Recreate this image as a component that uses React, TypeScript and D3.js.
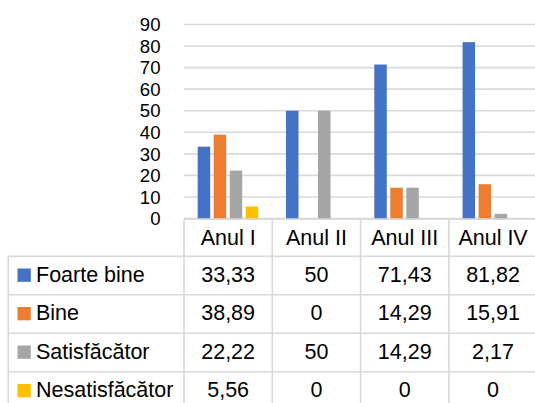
import * as d3 from 'd3'
import { useEffect, useRef } from 'react'

const categories = ['Anul I', 'Anul II', 'Anul III', 'Anul IV']
const seriesNames = ['Foarte bine', 'Bine', 'Satisfăcător', 'Nesatisfăcător']
const foarteBine = [33.33, 50, 71.43, 81.82]
const bine = [38.89, 0, 14.29, 15.91]
const satisfacator = [22.22, 50, 14.29, 2.17]
const nesatisfacator = [5.56, 0, 0, 0]
const yTicks = [0, 10, 20, 30, 40, 50, 60, 70, 80, 90]
const colors = ['#4472C4', '#ED7D31', '#A5A5A5', '#FFC000']

const App = () => {
  const ref = useRef<SVGSVGElement>(null)

  useEffect(() => {
    if (!ref.current) return
    const svg = d3.select(ref.current)
    svg.selectAll('*').remove()

    const width = 535
    const font = '"Liberation Sans", Arial, sans-serif'
    const fontSize = 21.5
    const tickSize = 18.6
    const grid = '#d9d9d9'
    const series = [foarteBine, bine, satisfacator, nesatisfacator]

    const plotLeft = 184
    const colW = 88.3
    const x = d3.scaleBand<string>()
      .domain(categories)
      .range([plotLeft, plotLeft + colW * categories.length])
      .padding(0)

    // bars inside one category
    const xs = d3.scaleBand<string>()
      .domain(seriesNames)
      .range([13.7, 74.2])
      .paddingInner(0.22)
      .paddingOuter(0)

    const y = d3.scaleLinear().domain([0, 90]).range([218.5, 24.5])

    // gridlines
    svg.append('g')
      .selectAll('line')
      .data(yTicks)
      .join('line')
      .attr('x1', plotLeft)
      .attr('x2', width)
      .attr('y1', d => y(d))
      .attr('y2', d => y(d))
      .attr('stroke', grid)
      .attr('stroke-width', 1.6)

    // y tick labels
    svg.append('g')
      .selectAll('text')
      .data(yTicks)
      .join('text')
      .attr('x', 160.5)
      .attr('y', d => y(d))
      .attr('dy', '0.36em')
      .attr('text-anchor', 'end')
      .style('font-family', font)
      .style('font-size', `${tickSize}px`)
      .style('fill', '#000')
      .text(d => d)

    // bars
    series.forEach((vals, si) => {
      svg.append('g')
        .selectAll('rect')
        .data(vals.map((v, i) => ({ v, c: categories[i] })).filter(d => d.v > 0))
        .join('rect')
        .attr('x', d => x(d.c)! + xs(seriesNames[si])!)
        .attr('y', d => y(d.v))
        .attr('width', xs.bandwidth())
        .attr('height', d => y(0) - y(d.v))
        .attr('fill', colors[si])
    })

    // data table
    const headerTop = 219.3
    const rowTop0 = 256.2
    const rowH = 38.5
    const tableBottom = rowTop0 + rowH * seriesNames.length
    const tableLeft = 8.3
    const t = svg.append('g')

    // horizontal lines
    t.append('line')
      .attr('x1', plotLeft).attr('x2', width + 5)
      .attr('y1', headerTop).attr('y2', headerTop)
      .attr('stroke', grid).attr('stroke-width', 1.6)
    seriesNames.forEach((_, i) => {
      const yy = rowTop0 + i * rowH
      t.append('line')
        .attr('x1', tableLeft).attr('x2', width + 5)
        .attr('y1', yy).attr('y2', yy)
        .attr('stroke', grid).attr('stroke-width', 1.6)
    })

    // vertical lines
    t.append('line')
      .attr('x1', tableLeft).attr('x2', tableLeft)
      .attr('y1', rowTop0).attr('y2', tableBottom)
      .attr('stroke', grid).attr('stroke-width', 1.6)
    categories.concat(['end']).forEach((c, i) => {
      const xx = plotLeft + i * colW
      t.append('line')
        .attr('x1', xx).attr('x2', xx)
        .attr('y1', headerTop).attr('y2', tableBottom)
        .attr('stroke', grid).attr('stroke-width', 1.6)
    })

    // header labels
    t.append('g')
      .selectAll('text')
      .data(categories)
      .join('text')
      .attr('x', d => x(d)! + x.bandwidth() / 2)
      .attr('y', 245)
      .attr('text-anchor', 'middle')
      .style('font-family', font)
      .style('font-size', `${fontSize}px`)
      .style('fill', '#000')
      .text(d => d)

    // rows
    seriesNames.forEach((name, si) => {
      const top = rowTop0 + si * rowH
      t.append('rect')
        .attr('x', 17.5)
        .attr('y', top + 12.3)
        .attr('width', 13.3)
        .attr('height', 13.3)
        .attr('fill', colors[si])
      t.append('text')
        .attr('x', 36)
        .attr('y', top + 25.5)
        .style('font-family', font)
        .style('font-size', `${fontSize}px`)
        .style('fill', '#000')
        .text(name)
      t.append('g')
        .selectAll('text')
        .data(series[si].map((v, i) => ({ v, c: categories[i] })))
        .join('text')
        .attr('x', d => x(d.c)! + x.bandwidth() / 2)
        .attr('y', top + 25.5)
        .attr('text-anchor', 'middle')
        .style('font-family', font)
        .style('font-size', `${fontSize}px`)
        .style('fill', '#000')
        .text(d => String(d.v).replace('.', ','))
    })
  }, [])

  return (
    <svg
      ref={ref}
      width={535}
      height={403}
      style={{ position: 'absolute', left: 0, top: 0, background: '#fff', display: 'block' }}
    />
  )
}

export default App
